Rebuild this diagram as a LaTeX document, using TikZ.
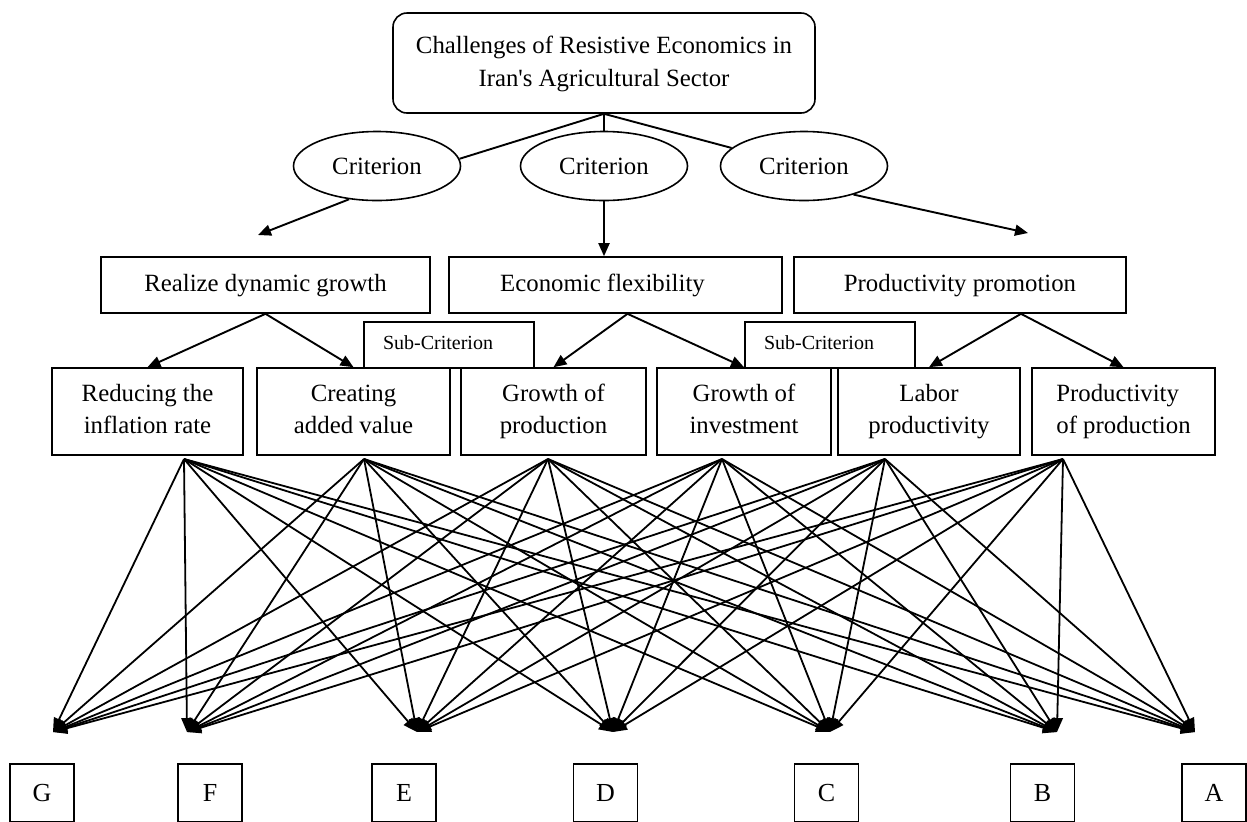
\documentclass[tikz,border=0pt]{standalone}
\usepackage{fontspec}
\setmainfont{Liberation Serif}
\usetikzlibrary{arrows.meta}
\usetikzlibrary{shapes.geometric}

\tikzset{
    box/.style={draw, line width=0.8pt, inner sep=0pt, align=center,
        font=\fontsize{12.4}{16}\selectfont},
    crit/.style={draw, ellipse, line width=0.8pt, inner sep=0pt,
        minimum width=83.5pt, minimum height=34.5pt, font=\fontsize{12.4}{16}\selectfont},
    midbox/.style={box, minimum height=28pt},
    lowbox/.style={box, minimum height=43.5pt},
    subbox/.style={draw, fill=white, line width=0.8pt, inner sep=0pt,
        minimum width=85pt, minimum height=23pt, font=\fontsize{10}{12}\selectfont},
    altbox/.style={box, minimum width=32pt, minimum height=29pt, font=\fontsize{13}{16}\selectfont},
    link/.style={line width=0.95pt},
    arr/.style={line width=0.95pt, -{Triangle[length=6.5pt,width=5.5pt]}},
    fan/.style={line width=0.9pt, -{Triangle[length=7pt,width=5.5pt]}}
}

\begin{document}
\begin{tikzpicture}[x=0.5pt,y=-0.5pt]
    \useasboundingbox (0,0) rectangle (1247,821);
    \clip (0,0) rectangle (1247,821);

        \node[box, rounded corners=7pt, minimum width=211pt, minimum height=50pt, font=\fontsize{12.4}{16.5}\selectfont]
            (goal) at (604,63) {Challenges of Resistive Economics in\strut\\Iran\textquotesingle s Agricultural Sector\strut};

        \node[crit] (c1) at (377,166) {Criterion};
        \node[crit] (c2) at (604,166) {Criterion};
        \node[crit] (c3) at (804,166) {Criterion};

        \draw[link] (goal.south) -- (c1.5);
        \draw[link] (goal.south) -- (c2.north);
        \draw[link] (goal.south) -- (c3.166);

        \node[midbox, minimum width=164.5pt] (b1) at (265.5,285) {Realize dynamic growth\strut};
        \node[midbox, minimum width=166.5pt] (b2) at (615.5,285) {Economic flexibility\strut\hspace*{13pt}};
        \node[midbox, minimum width=166pt] (b3) at (960,285) {Productivity promotion\strut};

        \coordinate (t1) at (258,235);
        \coordinate (t3) at (1028,233);
        \draw[arr] (c1.230) -- (t1);
        \draw[arr] (c2.south) -- (c2.south |- b2.north);
        \draw[arr] (c3.330) -- (t3);

        \node[lowbox, minimum width=95.5pt] (l1) at (147.5,411.5) {Reducing the\strut\\inflation rate\strut};
        \node[lowbox, minimum width=96.5pt] (l2) at (353.5,411.5) {Creating\strut\\added value\strut};
        \node[lowbox, minimum width=92.5pt] (l3) at (553.5,411.5) {Growth of\strut\\production\strut};
        \node[lowbox, minimum width=87pt] (l4) at (744,411.5) {Growth of\strut\\investment\strut};
        \node[lowbox, minimum width=91pt] (l5) at (929,411.5) {Labor\strut\\productivity\strut};
        \node[lowbox, minimum width=91.5pt, align=left] (l6) at (1123.5,411.5) {Productivity\strut\\of production\strut};

        \coordinate (e2) at ([xshift=6pt]b2.south);
        \coordinate (e3) at ([xshift=30.5pt]b3.south);
        \draw[arr] (b1.south) -- (l1.north);
        \draw[arr] (b1.south) -- (l2.north);
        \draw[arr] (e2) -- (l3.north);
        \draw[arr] (e2) -- (l4.north);
        \draw[arr] (e3) -- (l5.north);
        \draw[arr] (e3) -- (l6.north);

        \node[subbox] (s1) at (449,345) {Sub-Criterion\strut\hspace*{11pt}};
        \node[subbox] (s2) at (830,345) {Sub-Criterion\strut\hspace*{11pt}};

        % alternatives
        \node[altbox] (G) at (42,793) {G};
        \node[altbox] (F) at (210,793) {F};
        \node[altbox] (E) at (404,793) {E};
        \node[altbox] (D) at (605.5,793) {D};
        \node[altbox] (C) at (826.5,793) {C};
        \node[altbox] (B) at (1042.5,793) {B};
        \node[altbox] (A) at (1214,793) {A};

        \coordinate (f1) at (184,459);
        \coordinate (f2) at (364,459);
        \coordinate (f3) at (548,459);
        \coordinate (f4) at (722,459);
        \coordinate (f5) at (885,459);
        \coordinate (f6) at (1063,459);

        \coordinate (tG) at (53,732);
        \coordinate (tF) at (187,732);
        \coordinate (tE) at (417,732);
        \coordinate (tD) at (613,732);
        \coordinate (tC) at (830,732);
        \coordinate (tB) at (1057,732);
        \coordinate (tA) at (1195,732);

        \path[fan] (f1) edge (tG) edge (tF) edge (tE) edge (tD) edge (tC) edge (tB) edge (tA);
        \path[fan] (f2) edge (tG) edge (tF) edge (tE) edge (tD) edge (tC) edge (tB) edge (tA);
        \path[fan] (f3) edge (tG) edge (tF) edge (tE) edge (tD) edge (tC) edge (tB) edge (tA);
        \path[fan] (f4) edge (tG) edge (tF) edge (tE) edge (tD) edge (tC) edge (tB) edge (tA);
        \path[fan] (f5) edge (tG) edge (tF) edge (tE) edge (tD) edge (tC) edge (tB) edge (tA);
        \path[fan] (f6) edge (tG) edge (tF) edge (tE) edge (tD) edge (tC) edge (tB) edge (tA);
    \end{tikzpicture}
\end{document}
